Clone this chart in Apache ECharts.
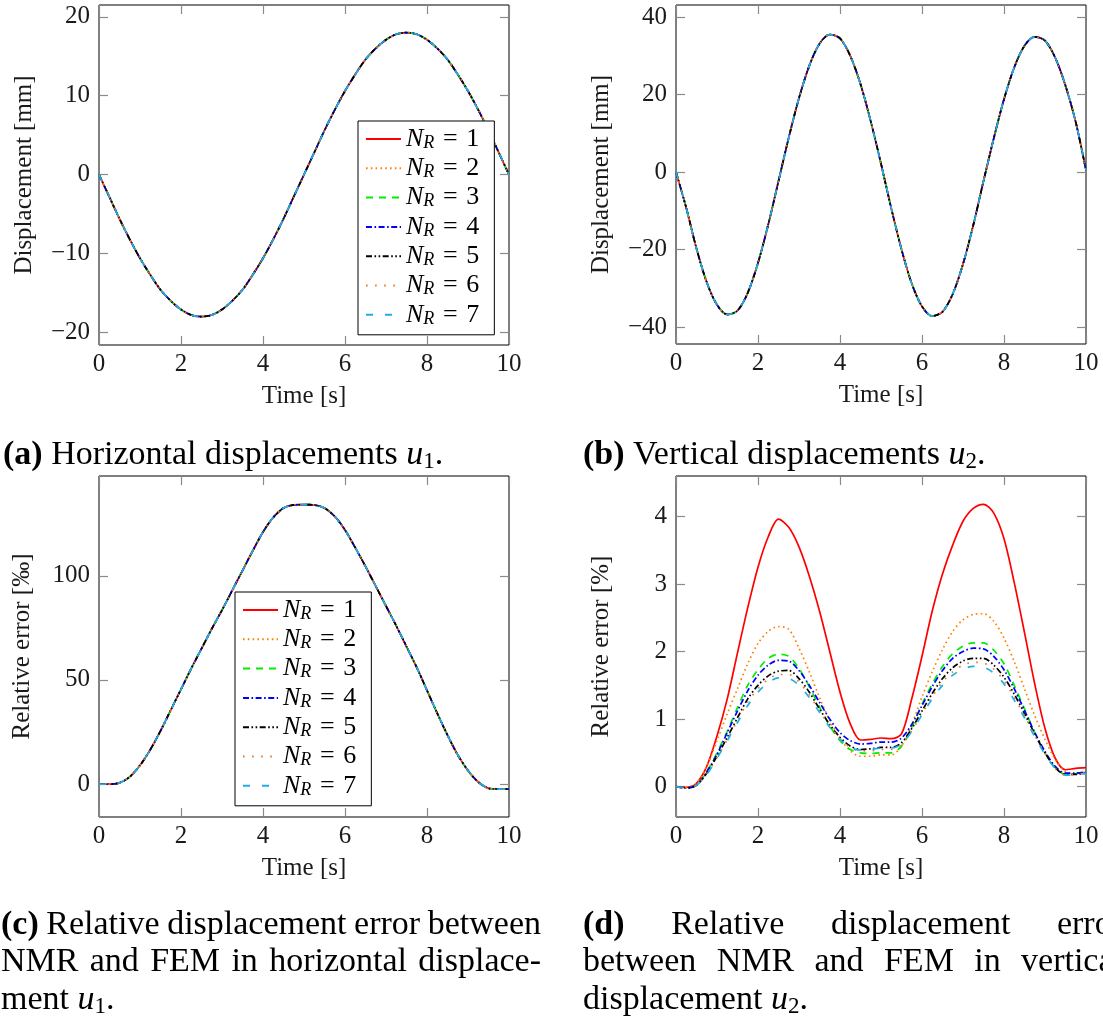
<!DOCTYPE html>
<html>
<head>
<meta charset="utf-8">
<script src="https://cdn.jsdelivr.net/npm/echarts@6/dist/echarts.min.js"></script>
<style>
  html, body { margin: 0; padding: 0; background: #fff; overflow: hidden; }
  #chart { width: 1103px; height: 1021px; }
</style>
</head>
<body>
<div id="chart"></div>
<script>
// ---- data -------------------------------------------------------------
const TIME = [0, 0.25, 0.5, 0.75, 1, 1.25, 1.5, 1.75, 2, 2.25, 2.5, 2.75, 3, 3.25, 3.5, 3.75,
  4, 4.25, 4.5, 4.75, 5, 5.25, 5.5, 5.75, 6, 6.25, 6.5, 6.75, 7, 7.25, 7.5, 7.75,
  8, 8.25, 8.5, 8.75, 9, 9.25, 9.5, 9.75, 10];

const NR_VALUES = [1, 2, 3, 4, 5, 6, 7];

// horizontal displacement u1 [mm] (all N_R coincide)
const U1 = [0, -2.8, -5.6, -8.2, -10.6, -12.7, -14.6, -16.0, -17.1, -17.8, -18.0, -17.8, -17.1, -16.0, -14.6, -12.7,
  -10.6, -8.2, -5.6, -2.8, 0, 2.8, 5.6, 8.2, 10.6, 12.7, 14.6, 16.0, 17.1, 17.8, 18.0, 17.8,
  17.1, 16.0, 14.6, 12.7, 10.6, 8.2, 5.6, 2.8, 0];

// vertical displacement u2 [mm] (all N_R coincide)
const U2 = [0, -9.2, -19.7, -28.4, -34.2, -36.7, -35.7, -31.1, -23.4, -13.5, -2.3, 8.9, 19.1, 27.4, 33.1, 35.5,
  34.5, 30.0, 22.7, 13.1, 2.2, -9.3, -19.9, -28.7, -34.6, -37.1, -36.0, -31.4, -23.7, -13.7, -2.3, 8.7,
  18.8, 27.0, 32.6, 34.9, 33.9, 29.5, 22.3, 12.9, 0.5];

// relative error of u1 [permille] (all N_R coincide)
const ERR_U1 = [0, 0, 0.6, 3.5, 9, 16.5, 25.5, 35.5, 45.5, 55.5, 65, 74.5, 83.5, 93, 102.5, 112,
  121, 128, 132.5, 134, 134.2, 134, 132.5, 128.5, 122, 113.5, 104.5, 95, 85.5, 76, 66, 56,
  45, 34, 23.5, 14, 6.5, 1, -2, -2.4, -2.4];

// relative error of u2 [%] per N_R
const ERR_U2_NR1 = [0, -0.01, 0.05, 0.3, 0.75, 1.3, 1.98, 2.65, 3.25, 3.7, 3.96, 3.84, 3.55, 3.12, 2.6, 2.0,
  1.4, 0.93, 0.69, 0.7, 0.72, 0.71, 0.78, 1.3, 1.93, 2.6, 3.15, 3.58, 3.93, 4.12, 4.18, 4.05,
  3.67, 3.02, 2.28, 1.52, 0.86, 0.42, 0.25, 0.27, 0.28];
const ERR_U2_NR2 = [0, -0.01, 0.05, 0.3, 0.68, 1.08, 1.45, 1.82, 2.12, 2.3, 2.37, 2.33, 2.05, 1.7, 1.32, 0.98,
  0.72, 0.53, 0.45, 0.45, 0.47, 0.47, 0.6, 0.92, 1.33, 1.7, 2.03, 2.3, 2.47, 2.55, 2.56, 2.45,
  2.2, 1.85, 1.45, 1.05, 0.7, 0.4, 0.22, 0.19, 0.22];
const ERR_U2_NR3 = [0, -0.02, 0.02, 0.22, 0.5, 0.82, 1.17, 1.5, 1.73, 1.9, 1.96, 1.93, 1.75, 1.48, 1.18, 0.9,
  0.68, 0.55, 0.5, 0.49, 0.5, 0.5, 0.6, 0.88, 1.22, 1.52, 1.78, 1.97, 2.08, 2.13, 2.13, 2.02,
  1.82, 1.5, 1.15, 0.8, 0.5, 0.28, 0.18, 0.19, 0.22];
const ERR_U2_NR4 = [0, -0.02, 0.02, 0.22, 0.48, 0.8, 1.12, 1.42, 1.65, 1.8, 1.87, 1.86, 1.72, 1.5, 1.25, 1.0,
  0.8, 0.68, 0.63, 0.64, 0.66, 0.66, 0.72, 0.92, 1.2, 1.48, 1.72, 1.9, 2.0, 2.05, 2.04, 1.93,
  1.73, 1.45, 1.13, 0.8, 0.52, 0.3, 0.2, 0.2, 0.22];
const ERR_U2_NR5 = [0, -0.02, 0.02, 0.2, 0.45, 0.73, 1.02, 1.3, 1.5, 1.64, 1.71, 1.72, 1.6, 1.4, 1.15, 0.92,
  0.73, 0.6, 0.55, 0.56, 0.58, 0.58, 0.65, 0.86, 1.12, 1.38, 1.6, 1.76, 1.86, 1.9, 1.9, 1.8,
  1.62, 1.37, 1.08, 0.78, 0.5, 0.28, 0.18, 0.18, 0.2];
const ERR_U2_NR6 = [0, -0.02, 0.02, 0.19, 0.43, 0.7, 0.98, 1.25, 1.45, 1.59, 1.66, 1.66, 1.55, 1.36, 1.12, 0.9,
  0.71, 0.58, 0.53, 0.53, 0.55, 0.55, 0.62, 0.83, 1.08, 1.33, 1.55, 1.7, 1.8, 1.84, 1.83, 1.74,
  1.57, 1.32, 1.05, 0.76, 0.49, 0.27, 0.17, 0.18, 0.2];
const ERR_U2_NR7 = [0, -0.02, 0.02, 0.18, 0.42, 0.68, 0.95, 1.2, 1.4, 1.54, 1.61, 1.6, 1.5, 1.32, 1.1, 0.88,
  0.7, 0.58, 0.54, 0.55, 0.57, 0.57, 0.63, 0.82, 1.06, 1.3, 1.5, 1.65, 1.74, 1.78, 1.77, 1.68,
  1.52, 1.28, 1.02, 0.74, 0.48, 0.27, 0.17, 0.17, 0.2];
const ERR_U2 = [ERR_U2_NR1, ERR_U2_NR2, ERR_U2_NR3, ERR_U2_NR4, ERR_U2_NR5, ERR_U2_NR6, ERR_U2_NR7];

// tick labels
const X_TICKS = [0, 2, 4, 6, 8, 10];
const Y_TICKS_U1 = [-20, -10, 0, 10, 20];
const Y_TICKS_U2 = [-40, -20, 0, 20, 40];
const Y_TICKS_ERR1 = [0, 50, 100];
const Y_TICKS_ERR2 = [0, 1, 2, 3, 4];

// ---- styling ----------------------------------------------------------
const SERIF = '"Liberation Serif", "Times New Roman", serif';
const TICK_FS = 25;
const CAP_FS = 34;

const LINE_STYLES = [
  { color: '#FF0000', type: 'solid' },
  { color: '#FF8000', type: [1.6, 3.2] },
  { color: '#00EE00', type: [7, 6] },
  { color: '#0000FF', type: [6, 2.5, 1.6, 2.5] },
  { color: '#000000', type: [6, 2.5, 1.6, 2.5, 1.6, 2.5] },
  { color: '#E07B2A', type: [1.6, 7.5] },
  { color: '#1FAEE8', type: [7, 12] }
];

const seriesName = k => 'N_R = ' + k;

// plot panels: grid geometry + y range
const PANELS = [
  { grid: { left: 99, top: 5, width: 410, height: 340 }, yMin: -21.6, yMax: 21.5, yTicks: Y_TICKS_U1,
    yName: 'Displacement [mm]', nameGap: 62, values: () => U1 },
  { grid: { left: 676, top: 5, width: 410, height: 339 }, yMin: -44.3, yMax: 43.1, yTicks: Y_TICKS_U2,
    yName: 'Displacement [mm]', nameGap: 62, values: () => U2 },
  { grid: { left: 99, top: 476, width: 410, height: 341 }, yMin: -15.8, yMax: 147.9, yTicks: Y_TICKS_ERR1,
    yName: 'Relative error [‰]', nameGap: 64, values: () => ERR_U1 },
  { grid: { left: 676, top: 476, width: 410, height: 341 }, yMin: -0.45, yMax: 4.6, yTicks: Y_TICKS_ERR2,
    yName: 'Relative error [%]', nameGap: 62, values: i => ERR_U2[i] }
];

const tickStyle = { inside: true, length: 9, lineStyle: { color: '#8a8a8a', width: 1.2 } };
const labelStyle = { fontFamily: SERIF, fontSize: TICK_FS, color: '#1a1a1a' };
const minus = v => String(v).replace('-', '\u2212');
const noLine = { show: false, onZero: false };

const grids = [], xAxes = [], yAxes = [], series = [];
PANELS.forEach((p, gi) => {
  grids.push(Object.assign({ show: true, borderColor: '#000', borderWidth: 1, backgroundColor: 'transparent' }, p.grid));
  xAxes.push({
    type: 'value', gridIndex: gi, position: 'bottom', min: 0, max: 10,
    axisLine: noLine, splitLine: { show: false },
    axisTick: Object.assign({ customValues: X_TICKS }, tickStyle),
    axisLabel: Object.assign({ customValues: X_TICKS, margin: 7 }, labelStyle),
    name: 'Time [s]', nameLocation: 'middle', nameGap: 39,
    nameTextStyle: { fontFamily: SERIF, fontSize: TICK_FS, color: '#1a1a1a' }
  });
  xAxes.push({
    type: 'value', gridIndex: gi, position: 'top', min: 0, max: 10,
    axisLine: noLine, splitLine: { show: false }, axisLabel: { show: false },
    axisTick: Object.assign({ customValues: X_TICKS }, tickStyle)
  });
  yAxes.push({
    type: 'value', gridIndex: gi, position: 'left', min: p.yMin, max: p.yMax,
    axisLine: noLine, splitLine: { show: false },
    axisTick: Object.assign({ customValues: p.yTicks }, tickStyle),
    axisLabel: Object.assign({ customValues: p.yTicks, margin: 9, formatter: minus }, labelStyle),
    name: p.yName, nameLocation: 'middle', nameRotate: 90, nameGap: p.nameGap,
    nameTextStyle: { fontFamily: SERIF, fontSize: TICK_FS, color: '#1a1a1a' }
  });
  yAxes.push({
    type: 'value', gridIndex: gi, position: 'right', min: p.yMin, max: p.yMax,
    axisLine: noLine, splitLine: { show: false }, axisLabel: { show: false },
    axisTick: Object.assign({ customValues: p.yTicks }, tickStyle)
  });
  NR_VALUES.forEach((k, i) => {
    const ys = p.values(i);
    series.push({
      type: 'line', name: seriesName(k), xAxisIndex: 2 * gi, yAxisIndex: 2 * gi,
      data: TIME.map((t, j) => [t, ys[j]]),
      symbol: 'none', smooth: 0.3, silent: true,
      lineStyle: { color: LINE_STYLES[i].color, type: LINE_STYLES[i].type, width: 1.7 },
      itemStyle: { color: LINE_STYLES[i].color }
    });
  });
});

// legend: N_R = k with italic N and subscript R
const legendRich = {
  n: { fontFamily: SERIF, fontStyle: 'italic', fontSize: 26, lineHeight: 26, color: '#000' },
  s: { fontFamily: SERIF, fontStyle: 'italic', fontSize: 18, lineHeight: 18, verticalAlign: 'bottom', color: '#000' },
  e: { fontFamily: SERIF, fontSize: 26, lineHeight: 26, color: '#000' }
};
function makeLegend(left, top) {
  return {
    left, top, orient: 'vertical', selectedMode: false,
    padding: [5, 15, 7, 7], itemWidth: 35, itemHeight: 12, itemGap: 3.3,
    borderColor: '#000', borderWidth: 1, backgroundColor: '#fff',
    itemStyle: { opacity: 0 },
    data: NR_VALUES.map(seriesName),
    formatter: name => '{n|N}{s|R}{e|\u2004=\u2004' + name.split('=')[1].trim() + '}',
    textStyle: { rich: legendRich, fontFamily: SERIF, fontSize: 26, color: '#000' }
  };
}

// ---- captions ---------------------------------------------------------
const measureCtx = document.createElement('canvas').getContext('2d');
function textWidth(t, bold) {
  measureCtx.font = (bold ? 'bold ' : '') + CAP_FS + 'px ' + SERIF;
  return measureCtx.measureText(t).width;
}
function word(t, x, y, bold) {
  return { type: 'text', x, y, silent: true,
    style: { text: t, fontFamily: SERIF, fontSize: CAP_FS, fontWeight: bold ? 'bold' : 'normal',
             fill: '#000', verticalAlign: 'middle' } };
}
function justified(words, x0, x1, y) {
  const ws = words.map(w => textWidth(w[0], w[1]));
  const gap = (x1 - x0 - ws.reduce((a, b) => a + b, 0)) / (words.length - 1);
  let x = x0;
  return words.map((w, i) => { const el = word(w[0], x, y, w[1]); x += ws[i] + gap; return el; });
}
const capRich = {
  b: { fontFamily: SERIF, fontSize: CAP_FS, fontWeight: 'bold', lineHeight: 36 },
  r: { fontFamily: SERIF, fontSize: CAP_FS, lineHeight: 36 },
  m: { fontFamily: SERIF, fontSize: CAP_FS, fontStyle: 'italic', lineHeight: 36 },
  sub: { fontFamily: SERIF, fontSize: 23, lineHeight: 23, verticalAlign: 'bottom' }
};
function richLine(text, x, y) {
  return { type: 'text', x, y, silent: true,
    style: { text, rich: capRich, fill: '#000', verticalAlign: 'middle' } };
}

const graphics = [
  richLine('{b|(a)}{r| Horizontal displacements }{m|u}{sub|1}{r|.}', 3, 455),
  richLine('{b|(b)}{r| Vertical displacements }{m|u}{sub|2}{r|.}', 583, 455),
  ...justified([['(c)', true], ['Relative'], ['displacement'], ['error'], ['between']], 1, 541, 925),
  ...justified([['NMR'], ['and'], ['FEM'], ['in'], ['horizontal'], ['displace-']], 1, 541, 962),
  richLine('{r|ment }{m|u}{sub|1}{r|.}', 1, 1000),
  ...justified([['(d)', true], ['Relative'], ['displacement'], ['error']], 583, 1123, 925),
  ...justified([['between'], ['NMR'], ['and'], ['FEM'], ['in'], ['vertical']], 583, 1123, 962),
  richLine('{r|displacement }{m|u}{sub|2}{r|.}', 583, 1000)
];

const chart = echarts.init(document.getElementById('chart'), null, { renderer: 'canvas' });
chart.setOption({
  animation: false,
  backgroundColor: '#fff',
  grid: grids,
  xAxis: xAxes,
  yAxis: yAxes,
  legend: [makeLegend(358, 121), makeLegend(235, 592)],
  series,
  graphic: graphics
});
</script>
</body>
</html>
